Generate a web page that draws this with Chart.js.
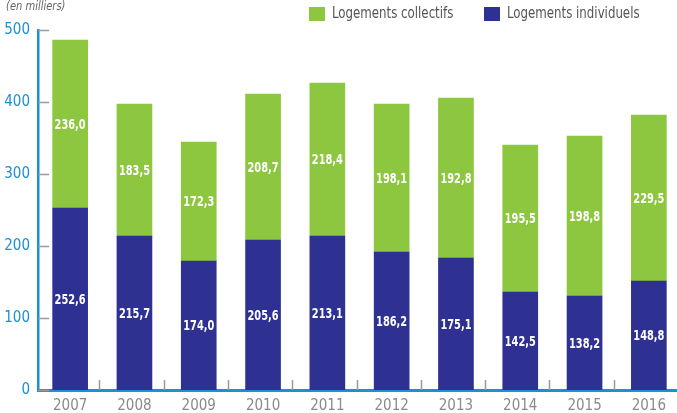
<!DOCTYPE html>
<html>
<head>
<meta charset="utf-8">
<script src="https://cdn.jsdelivr.net/npm/chart.js@4"></script>
<style>
  html, body { margin:0; padding:0; background:#fff; overflow:hidden; }
  #wrap { position:relative; width:677px; height:413px; overflow:hidden; }
</style>
</head>
<body>
<div id="wrap"><canvas id="c" width="681" height="413"></canvas></div>
<script>
const years = ["2007","2008","2009","2010","2011","2012","2013","2014","2015","2016"];
// hauteurs des barres telles que dessinees sur l'image
const individuels = [252.8, 213.9, 179.2, 208.3, 213.9, 191.7, 183.3, 136.1, 130.6, 151.4];
const collectifs  = [233.3, 183.3, 165.2, 202.8, 212.5, 205.5, 222.3, 204.2, 222.2, 230.5];
// valeurs imprimees dans les barres
const libIndividuels = ["252,6","215,7","174,0","205,6","213,1","186,2","175,1","142,5","138,2","148,8"];
const libCollectifs  = ["236,0","183,5","172,3","208,7","218,4","198,1","192,8","195,5","198,8","229,5"];
const yTicks = [0, 100, 200, 300, 400, 500];

const FONT = '"Liberation Sans Narrow", "DejaVu Sans Condensed", "Roboto", sans-serif';
const BLUE = "#2e3192";
const GREEN = "#8dc63f";
const AXIS = "#1a90d6";

// texte compresse horizontalement (police condensee de l'original)
function narrowText(ctx, txt, x, y, sx){
  ctx.save();
  ctx.translate(x, y);
  ctx.scale(sx, 1);
  ctx.fillText(txt, 0, 0);
  ctx.restore();
}

/* ticks grises + etiquettes des segments + legende */
const decor = {
  id: "decor",
  afterDatasetsDraw(chart){
    const ctx = chart.ctx;
    const x = chart.scales.x, y = chart.scales.y;
    const a = chart.chartArea;

    ctx.save();
    ctx.strokeStyle = "#9a9a9a";
    ctx.lineWidth = 1.5;
    for(let i=0;i<years.length-1;i++){
      const px = Math.round((x.getPixelForValue(i)+x.getPixelForValue(i+1))/2) - 2.5;
      ctx.beginPath();
      ctx.moveTo(px, a.bottom-10);
      ctx.lineTo(px, a.bottom);
      ctx.stroke();
    }
    yTicks.forEach(v=>{
      const py = Math.round(y.getPixelForValue(v)) + 0.5;
      ctx.beginPath();
      ctx.moveTo(a.left, py);
      ctx.lineTo(a.left+11, py);
      ctx.stroke();
    });

    // valeurs dans les barres
    const libs = [libIndividuels, libCollectifs];
    ctx.fillStyle = "#fff";
    ctx.font = "bold 14px " + FONT;
    ctx.textAlign = "center";
    ctx.textBaseline = "middle";
    chart.data.datasets.forEach((ds, di)=>{
      chart.getDatasetMeta(di).data.forEach((bar, i)=>{
        narrowText(ctx, libs[di][i], bar.x, (bar.y + bar.base)/2 + 1, 0.78);
      });
    });

    // legende
    ctx.textAlign = "left";
    ctx.font = "16px " + FONT;
    const items = [
      {label:"Logements collectifs", color:GREEN, x:309},
      {label:"Logements individuels", color:BLUE, x:484}
    ];
    items.forEach(it=>{
      ctx.fillStyle = it.color;
      ctx.fillRect(it.x, 7, 16, 14);
      ctx.fillStyle = "#555";
      narrowText(ctx, it.label, it.x+23, 14, 0.82);
    });

    ctx.font = "italic 13px " + FONT;
    ctx.fillStyle = "#666";
    narrowText(ctx, "(en milliers)", 6, 7, 0.85);
    ctx.restore();
  }
};

new Chart(document.getElementById("c"), {
  type: "bar",
  data: {
    labels: years,
    datasets: [
      {label:"Logements individuels", data:individuels, backgroundColor:BLUE, barThickness:35},
      {label:"Logements collectifs", data:collectifs, backgroundColor:GREEN, barThickness:35}
    ]
  },
  options: {
    responsive: false,
    animation: false,
    layout: { padding: { top:30, right:0, left:0, bottom:0 } },
    plugins: { legend:{display:false}, tooltip:{enabled:false} },
    scales: {
      x: {
        stacked: true,
        grid: { display:false, drawTicks:false },
        border: { color:AXIS, width:3 },
        ticks: { color:"#8a8a8a", font:{ family:FONT, size:15 }, padding:7 },
        afterFit: s => { s.height = 23; }
      },
      y: {
        stacked: true,
        min: 0, max: 500,
        afterBuildTicks: s => { s.ticks = yTicks.map(v=>({value:v})); },
        grid: { display:false, drawTicks:false },
        border: { color:AXIS, width:2.5 },
        ticks: { color:AXIS, font:{ family:FONT, size:15 }, padding:8 },
        afterFit: s => { s.width = 38; }
      }
    }
  },
  plugins: [decor]
});
</script>
</body>
</html>
